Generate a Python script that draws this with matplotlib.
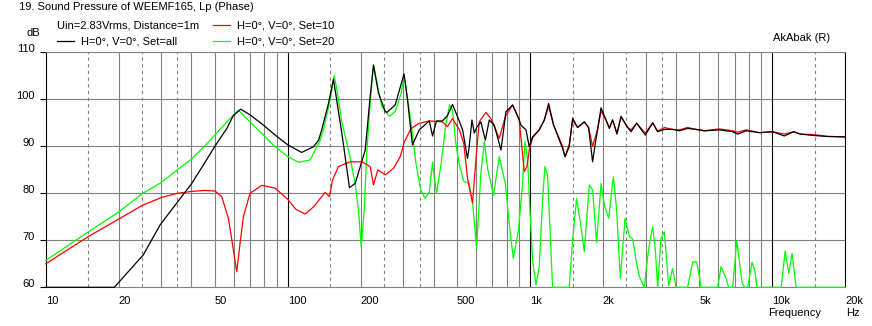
import matplotlib
matplotlib.use("Agg")
import matplotlib.pyplot as plt
from matplotlib.lines import Line2D

plt.rcParams['font.family'] = ['Liberation Sans', 'DejaVu Sans']
plt.rcParams['font.size'] = 8

# (frequency Hz, level dB)
set_all = [
    (10, 60), (19.2, 60), (25.3, 66.9), (29.7, 73.3), (35.1, 78.2), (40.1, 82.1), (45, 86.2),
    (50.1, 90.1), (56, 93.8), (59.5, 96.5), (63.9, 97.9), (69.8, 96.7), (79.3, 94.5), (88.6, 92.4),
    (100, 90.3), (114, 88.7), (127.6, 89.9), (134, 91.3), (138, 93.5), (147.2, 99.1), (154.3, 104.3),
    (167.1, 92.8), (179.7, 81.2), (189.7, 82.1), (208.7, 89.2), (218.8, 100.6), (225.8, 107.3),
    (236.8, 101.3), (252.5, 97.4), (256.5, 97.2), (277.6, 98.8), (302, 105.4), (312, 99.9),
    (327, 90.3), (349, 93.5), (384, 95.4), (396, 92.2), (411, 95.4), (435, 95.4), (456, 96.5),
    (479, 98.9), (502, 96.3), (527, 93.5), (552, 87.4), (561, 89.9), (576, 95.6), (589, 92.8),
    (602, 94.0), (627, 95.2), (654, 91.3), (679, 95.6), (712, 94.5), (759, 89.2), (796, 97.4),
    (848, 98.8), (897, 96.0), (918, 94.5), (963, 93.5), (993, 89.9), (1025, 92.0), (1092, 93.5),
    (1146, 95.6), (1194, 99.1), (1252, 94.5), (1363, 89.6), (1396, 87.8), (1453, 89.9), (1500, 96.0),
    (1573, 94.0), (1676, 95.2), (1746, 94.0), (1814, 86.7), (1860, 90.5), (1966, 98.2), (2061, 95.6),
    (2127, 93.8), (2194, 95.6), (2288, 92.6), (2377, 96.4), (2531, 94.0), (2615, 93.1), (2757, 94.9),
    (2995, 92.4), (3212, 95.0), (3367, 93.1), (3590, 93.6), (3882, 93.6), (4140, 93.3), (4478, 93.8),
    (4853, 93.6), (5250, 93.3), (6056, 93.5), (6875, 93.1), (7206, 92.6), (7807, 93.3), (8870, 92.9),
    (10060, 93.1), (11230, 92.2), (12270, 93.1), (13080, 92.6), (14850, 92.3), (16870, 92.1),
    (20000, 92.0),
]

set_10 = [
    (10, 65.0), (15, 70.8), (20, 74.5), (25, 77.4), (30, 79.1), (35, 80.0), (40, 80.4), (45, 80.6),
    (50, 80.5), (53.3, 79.3), (56.8, 74.7), (58.7, 70.1), (61.5, 63.3), (63.5, 69.4), (65.5, 75.0),
    (69.8, 80.0), (78.1, 81.7), (88.6, 81.1), (100, 78.7), (108, 76.6), (117.9, 75.6), (127.6, 77.1),
    (142.6, 80.2), (148.6, 79.3), (152.9, 82.8), (161.8, 85.7), (180.9, 86.7), (202.2, 86.7),
    (218.8, 85.7), (225.8, 81.8), (235.4, 85.0), (252.5, 83.9), (273.2, 85.3), (291, 87.8),
    (303.3, 91.0), (323, 93.8), (349, 94.9), (384, 95.4), (435, 95.2), (456, 94.2), (479, 95.9),
    (511, 93.5), (533, 90.6), (552, 83.2), (579, 77.9), (598, 87.1), (617, 95.2), (657, 97.2),
    (690, 95.9), (747, 91.7), (791, 96.3), (848, 98.8), (903, 95.6), (947, 84.6), (972, 85.7),
    (993, 89.2), (1025, 91.8), (1092, 93.5), (1146, 95.6), (1194, 98.5), (1252, 94.5), (1363, 90.0),
    (1396, 87.8), (1453, 90.5), (1500, 95.5), (1573, 94.0), (1676, 95.2), (1746, 94.0), (1814, 90.0),
    (1900, 93.5), (1966, 97.5), (2061, 95.6), (2127, 94.0), (2194, 95.6), (2288, 92.8), (2377, 96.2),
    (2531, 94.0), (2615, 93.5), (2757, 94.9), (2995, 92.8), (3212, 95.0), (3367, 93.2), (3590, 94.0),
    (3882, 93.6), (4140, 93.5), (4478, 94.0), (4853, 93.6), (5250, 93.3), (6056, 93.7), (6875, 93.3),
    (7206, 93.0), (7807, 93.5), (8870, 92.9), (10060, 93.1), (11230, 92.6), (12270, 93.1),
    (13080, 92.6), (14850, 92.5), (16870, 92.1), (20000, 92.0),
]

set_20 = [
    (10, 65.7), (15, 71.8), (20, 76.0), (25, 79.9), (30, 82.3), (35, 85.0), (40, 87.3), (45, 89.9),
    (50, 92.4), (56, 95.2), (62.5, 97.7), (69.8, 95.2), (79.3, 92.4), (88.6, 89.9), (100, 87.8),
    (110.6, 86.6), (123.6, 87.1), (127.6, 88.5), (136, 91.3), (140.3, 93.5), (149.6, 99.9),
    (155.4, 105.0), (159.4, 102.0), (167.1, 95.2), (178, 89.2), (189.7, 82.1), (195.7, 76.4),
    (200.9, 68.6), (206.7, 76.4), (212.1, 89.2), (218.8, 99.1), (225.8, 107.3), (233.2, 103.7),
    (244.5, 98.4), (262.9, 96.4), (277.6, 97.4), (294, 101.3), (302, 105.0), (312, 100.2),
    (323, 94.9), (338, 86.4), (354, 80.7), (369, 78.9), (384, 80.3), (396, 86.7), (401, 84.0),
    (411, 80.0), (428, 85.7), (449, 94.5), (465, 98.8), (479, 97.7), (494, 90.6), (511, 86.0),
    (533, 82.5), (561, 82.1), (579, 78.2), (602, 68.3), (627, 84.3), (648, 91.0), (668, 85.3),
    (707, 79.6), (747, 87.8), (791, 82.1), (821, 73.6), (853, 66.2), (897, 72.2), (932, 82.1),
    (953, 91.0), (978, 87.1), (1000, 76.4), (1025, 65.8), (1059, 60.5), (1092, 64.4), (1127, 78.6),
    (1153, 85.7), (1182, 83.9), (1213, 70.8), (1240, 60.0), (1453, 60.0), (1500, 70.1), (1558, 78.9),
    (1624, 72.9), (1676, 67.6), (1758, 81.8), (1814, 80.7), (1885, 69.5), (1966, 82.1), (2028, 77.5),
    (2113, 74.7), (2210, 83.5), (2280, 76.4), (2361, 61.9), (2470, 74.7), (2573, 70.8), (2655, 70.3),
    (2742, 65.8), (2829, 62.3), (2966, 60.0), (3062, 66.5), (3140, 70.4), (3212, 72.9), (3295, 67.9),
    (3367, 60.0), (3477, 70.4), (3590, 71.8), (3669, 65.8), (3739, 60.3), (3882, 64.0), (4010, 60.0),
    (4478, 60.0), (4697, 65.4), (4880, 65.4), (5008, 62.3), (5080, 60.0), (5960, 60.0), (6153, 64.4),
    (6456, 61.9), (6617, 60.0), (6875, 60.0), (7143, 69.9), (7328, 65.4), (7519, 60.9), (7700, 60.0),
    (7930, 60.0), (8260, 65.3), (8450, 64.0), (8670, 60.0), (10900, 60.0), (11320, 67.7),
    (11710, 63.0), (12095, 67.2), (12560, 60.0), (20000, 60.0),
]

x_ticks = [10, 20, 50, 100, 200, 500, 1000, 2000, 5000, 10000, 20000]
x_labels = ['10', '20', '50', '100', '200', '500', '1k', '2k', '5k', '10k', '20k']
y_ticks = [60, 70, 80, 90, 100, 110]

W, H = 872, 326
fig = plt.figure(figsize=(W / 100, H / 100), dpi=100)
ax = fig.add_axes([45.7 / W, 1 - 287.3 / H, (845 - 45.7) / W, (287.3 - 52.3) / H])
ax.set_xscale('log')
ax.set_xlim(10, 20000)
ax.set_ylim(60, 110)

gray = '#808080'
# vertical grid: black at decades, grey at 2..9, dashed at 1.5/2.5/3.5
for dec in [10, 100, 1000, 10000]:
    if dec > 10:
        ax.axvline(dec, color='black', lw=0.8, zorder=1)
    for k in range(2, 10):
        if k * dec < 20000:
            ax.axvline(k * dec, color=gray, lw=0.8, zorder=0.5)
    for k in [1.5, 2.5, 3.5]:
        if k * dec < 20000:
            ax.axvline(k * dec, color=gray, lw=0.8, ls=(0, (3, 3)), zorder=0.5)
for y in y_ticks[1:-1]:
    ax.axhline(y, color=gray, lw=0.8, zorder=0.5)

for s in ['top', 'bottom']:
    ax.spines[s].set_color(gray)
    ax.spines[s].set_linewidth(0.8)
ax.spines['left'].set_linewidth(0.8)
ax.spines['right'].set_linewidth(0.8)

f20, d20 = zip(*set_20)
f10, d10 = zip(*set_10)
fall, dall = zip(*set_all)
ax.plot(f20, d20, color='#00ff00', lw=0.9, clip_on=False, zorder=3)
ax.plot(f10, d10, color='#ff0000', lw=0.9, clip_on=False, zorder=4)
ax.plot(fall, dall, color='black', lw=0.9, clip_on=False, zorder=5)

ax.set_xticks(x_ticks)
ax.set_xticklabels(x_labels)
ax.xaxis.set_minor_locator(matplotlib.ticker.NullLocator())
ax.tick_params(axis='x', length=0, pad=6)
for lab in ax.get_xticklabels():
    lab.set_ha('left')
ax.set_yticks(y_ticks)
ax.set_yticklabels([str(v) for v in y_ticks])
ax.tick_params(axis='y', length=4.5, width=0.8, pad=3.5)
for lab in ax.get_yticklabels():
    lab.set_va('baseline')


def fp(x, y):
    return x / W, 1 - y / H


fig.text(*fp(19, 7), '19. Sound Pressure of WEEMF165, Lp (Phase)', va='center', ha='left')
fig.text(*fp(57, 25), 'Uin=2.83Vrms, Distance=1m', va='center', ha='left')
fig.text(*fp(26, 33), 'dB', va='center', ha='left')
fig.text(*fp(773, 38), 'AkAbak (R)', va='center', ha='left')
fig.text(*fp(768, 313), 'Frequency', va='center', ha='left')
fig.text(*fp(846, 313), 'Hz', va='center', ha='left')

legend = [('black', 57, 41, 'H=0°, V=0°, Set=all'),
          ('#ff0000', 213, 25, 'H=0°, V=0°, Set=10'),
          ('#00ff00', 213, 41, 'H=0°, V=0°, Set=20')]
for color, x0, y0, label in legend:
    x1, y1 = fp(x0, y0)
    x2, _ = fp(x0 + 17, y0)
    fig.add_artist(Line2D([x1, x2], [y1, y1], color=color, lw=0.9, transform=fig.transFigure))
    fig.text(*fp(x0 + 24, y0), label, va='center', ha='left')

fig.savefig('out.png', dpi=100)
